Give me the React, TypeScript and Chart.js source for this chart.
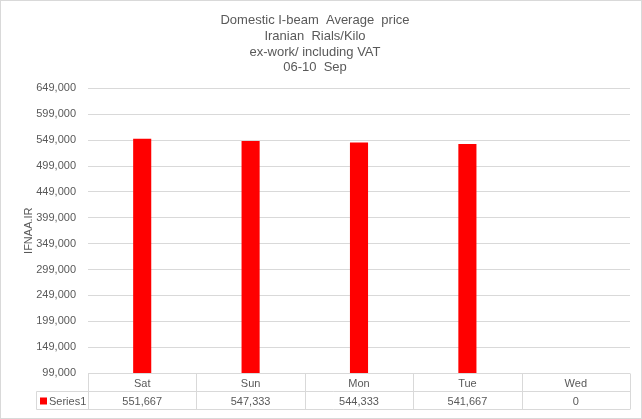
import { useEffect, useRef } from "react";
import { Chart, registerables } from "chart.js";

Chart.register(...registerables);

const categories = ["Sat", "Sun", "Mon", "Tue", "Wed"];
const series1 = [551667, 547333, 544333, 541667, 0];
const seriesName = "Series1";
const titleLines = [
  "Domestic I-beam  Average  price",
  "Iranian  Rials/Kilo",
  "ex-work/ including VAT",
  "06-10  Sep",
];
const yTitle = "IFNAA.IR";
const yMin = 99000;
const yMax = 649000;
const yStep = 50000;

const FONT = "'Liberation Sans', Arial, sans-serif";
const TEXT = "#595959";
const GRID = "#d9d9d9";
const RED = "#ff0000";

const fmt = (v: number) => v.toLocaleString("en-US");

const tablePlugin = {
  id: "dataTable",
  beforeDraw(chart: any) {
    const { ctx, width, height } = chart;
    ctx.save();
    ctx.fillStyle = "#ffffff";
    ctx.fillRect(0, 0, width, height);
    ctx.restore();
  },
  afterDraw(chart: any) {
    const { ctx, chartArea, width, height } = chart;
    const n = categories.length;
    const left = chartArea.left;
    const right = chartArea.right;
    const colW = (right - left) / n;
    const rowH = 18;
    const top = Math.round(chartArea.bottom) + 0.5;
    const legendLeft = 36.5;
    ctx.save();
    ctx.strokeStyle = GRID;
    ctx.lineWidth = 1;
    ctx.beginPath();
    ctx.moveTo(left, top);
    ctx.lineTo(right, top);
    ctx.moveTo(legendLeft, top + rowH);
    ctx.lineTo(right, top + rowH);
    ctx.moveTo(legendLeft, top + 2 * rowH);
    ctx.lineTo(right, top + 2 * rowH);
    for (let i = 0; i <= n; i++) {
      const x = Math.round(left + i * colW) + 0.5;
      ctx.moveTo(x, top);
      ctx.lineTo(x, top + 2 * rowH);
    }
    ctx.moveTo(legendLeft, top + rowH);
    ctx.lineTo(legendLeft, top + 2 * rowH);
    ctx.stroke();

    ctx.fillStyle = TEXT;
    ctx.font = `11px ${FONT}`;
    ctx.textAlign = "center";
    ctx.textBaseline = "middle";
    for (let i = 0; i < n; i++) {
      const cx = left + (i + 0.5) * colW;
      ctx.fillText(categories[i], cx, top + rowH / 2 + 1);
      ctx.fillText(fmt(series1[i]), cx, top + rowH * 1.5 + 1);
    }
    ctx.fillStyle = RED;
    ctx.fillRect(40, top + rowH * 1.5 - 3, 7, 7);
    ctx.fillStyle = TEXT;
    ctx.textAlign = "left";
    ctx.fillText(seriesName, 49, top + rowH * 1.5 + 1);

    ctx.strokeStyle = GRID;
    ctx.strokeRect(0.5, 0.5, width - 1, height - 1);
    ctx.restore();
  },
};

export default function App() {
  const ref = useRef<HTMLCanvasElement | null>(null);
  useEffect(() => {
    document.body.style.margin = "0";
    if (!ref.current) return;
    const chart = new Chart(ref.current, {
      type: "bar",
      data: {
        labels: categories,
        datasets: [
          {
            label: seriesName,
            data: series1,
            backgroundColor: RED,
            categoryPercentage: 1,
            barPercentage: 0.167,
          },
        ],
      },
      options: {
        animation: false,
        responsive: false,
        layout: { padding: { left: 0, right: 12, top: 0, bottom: 46 } },
        plugins: {
          legend: { display: false },
          tooltip: { enabled: false },
          title: {
            display: true,
            text: titleLines,
            color: TEXT,
            font: { family: FONT, size: 13, weight: "normal", lineHeight: 1.2 },
            padding: { top: 13, bottom: 13 },
          },
        },
        scales: {
          x: {
            display: true,
            ticks: { display: false },
            grid: { display: false, drawTicks: false },
            border: { display: false },
          },
          y: {
            min: yMin,
            max: yMax,
            afterFit: (s: any) => {
              s.width = 88;
            },
            ticks: {
              stepSize: yStep,
              color: TEXT,
              padding: 12,
              font: { family: FONT, size: 11 },
              callback: (v: any) => fmt(Number(v)),
            },
            grid: { color: GRID, drawTicks: false },
            border: { display: false },
            title: {
              display: true,
              text: yTitle,
              color: TEXT,
              font: { family: FONT, size: 11 },
              padding: { top: 22, bottom: 0 },
            },
          },
        },
      },
      plugins: [tablePlugin],
    });
    return () => chart.destroy();
  }, []);
  return <canvas ref={ref} width={642} height={419} style={{ display: "block" }} />;
}
